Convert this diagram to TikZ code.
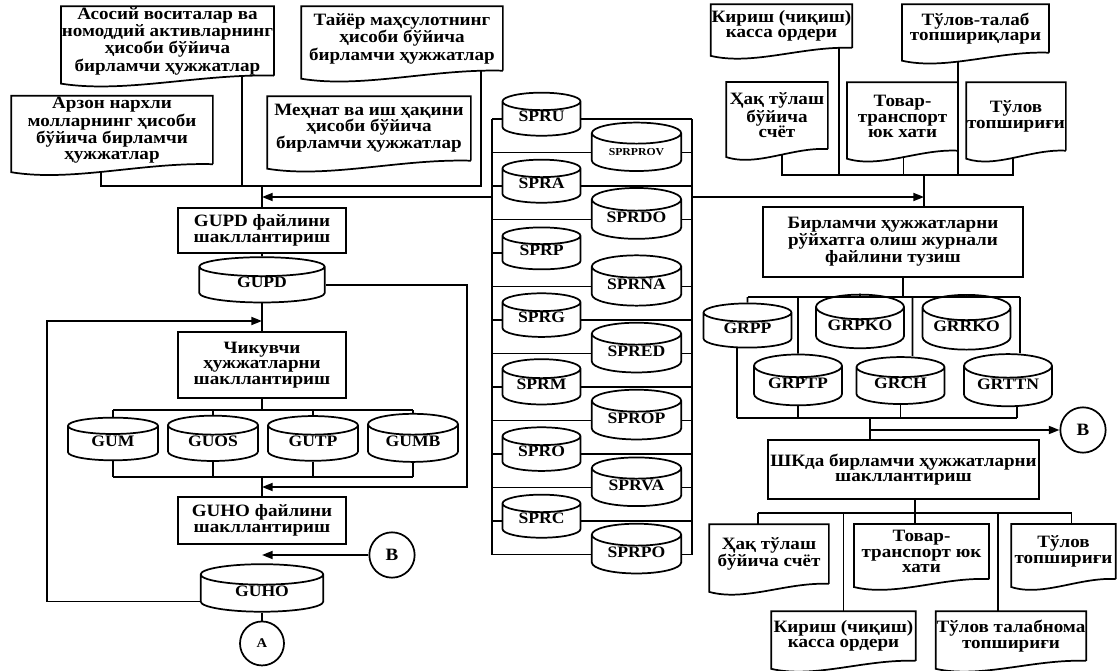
\documentclass[tikz,border=0pt]{standalone}
\usepackage{fontspec}
\setmainfont{Liberation Serif}[FakeStretch=1.1]
\usetikzlibrary{arrows.meta,positioning,calc,shapes.geometric}

\begin{document}
\begin{tikzpicture}[
  x=0.75pt, y=-0.75pt, line width=1.3pt,
  font=\fontsize{13}{11.6}\selectfont\bfseries,
  box/.style={draw, align=center, inner sep=2pt},
  doc/.style={align=center, inner sep=0pt},
  dbase/.style={draw, cylinder, shape border rotate=90, aspect=0.38, inner sep=0pt,
    text height=8pt, text depth=4pt, font=\fontsize{12}{12}\selectfont\bfseries},
  circ/.style={draw, circle, minimum size=34pt, inner sep=0pt},
  smalllab/.style={font=\fontsize{8}{9}\selectfont\bfseries},
  normlab/.style={},
  arr/.style={-{Triangle[length=8pt,width=6pt]}}
]
\useasboundingbox (0,0) rectangle (1118,671);

\node[doc, minimum width=146pt, minimum height=50pt] (asos) at (167.5,41) {Асосий воситалар ва\\номоддий активларнинг\\ҳисоби бўйича\\бирламчи ҳужжатлар};
\node[doc, minimum width=150pt, minimum height=47pt] (tayer) at (402,38.5) {Тайёр маҳсулотнинг\\ҳисоби бўйича\\бирламчи ҳужжатлар};
\node[doc, minimum width=150pt, minimum height=50pt] (arzon) at (112,130) {Арзон нархли\\молларнинг ҳисоби\\бўйича бирламчи\\ҳужжатлар};
\node[doc, minimum width=151.5pt, minimum height=47pt] (mehnat) at (369,128.5) {Меҳнат ва иш ҳақини\\ҳисоби бўйича\\бирламчи ҳужжатлар};

\node[doc, minimum width=103pt, minimum height=31.5pt] (kir1) at (781.5,26) {Кириш (чиқиш)\\касса ордери};
\node[doc, minimum width=109pt, minimum height=35pt] (tt1) at (975.5,28.5) {Тўлов-талаб\\топшириқлари};
\node[doc, minimum width=75pt, minimum height=49pt] (haq1) at (777,115.5) {Ҳақ тўлаш\\бўйича\\счёт};
\node[doc, minimum width=82pt, minimum height=50pt] (tov1) at (902.5,116.5) {Товар-\\транспорт\\юк хати};
\node[doc, minimum width=73.5pt, minimum height=50pt] (tul1) at (1016,116.5) {Тўлов\\топшириғи};

\node[doc, minimum width=88.5pt, minimum height=43.5pt] (haq2) at (769,554) {Ҳақ тўлаш\\бўйича счёт};
\node[doc, minimum width=100pt, minimum height=40pt] (tov2) at (921.5,551.5) {Товар-\\транспорт юк\\хати};
\node[doc, minimum width=77pt, minimum height=40pt] (tul2) at (1063.5,551.5) {Тўлов\\топшириғи};
\node[doc, minimum width=107pt, minimum height=36pt] (kir2) at (843.5,636) {Кириш (чиқиш)\\касса ордери};
\node[doc, minimum width=106.5pt, minimum height=36pt] (tt2) at (1011,636) {Тўлов талабнома\\топшириғи};

\foreach \d in {asos,tayer,arzon,mehnat,kir1,tt1,haq1,tov1,tul1,haq2,tov2,tul2,kir2,tt2}
  \draw (\d.south east) -- (\d.north east) -- (\d.north west) -- ($(\d.south west)+(0,8)$)
    .. controls ($(\d.south west)!0.3!(\d.south east)+(0,18)$) and ($(\d.south west)!0.65!(\d.south east)+(0,-2)$) .. (\d.south east);

\node[box, minimum width=126pt, minimum height=34pt] (gupdf) at (262,230.5) {GUPD файлини\\шакллантириш};
\node[dbase, minimum width=94pt, minimum height=30pt] (gupd) at (262,285) {GUPD};
\node[box, minimum width=126pt, minimum height=49.5pt] (chik) at (262,365) {Чикувчи\\ҳужжатларни\\шакллантириш};
\foreach \c/\x/\t in {gum/113/GUM,guos/213/GUOS,gutp/313/GUTP,gumb/413/GUMB}
  \node[dbase, minimum width=67.5pt, minimum height=32pt] (\c) at (\x,443.5) {\t};
\node[box, minimum width=126pt, minimum height=35pt] (guhof) at (262,520.5) {GUHO файлини\\шакллантириш};
\node[dbase, minimum width=92pt, minimum height=35pt] (guho) at (262,593.5) {GUHO};
\node[circ] (bL) at (392,555) {B};
\node[circ, minimum size=33pt, font=\fontsize{10}{12}\selectfont\bfseries, below=6pt of guho] (aL) {A};

\foreach \n/\k in {SPRU/0,SPRA/1,SPRP/2,SPRG/3,SPRM/4,SPRO/5,SPRC/6}
  \node[dbase, minimum width=58.5pt, minimum height=31pt] (\n) at (541.5,{119+67*\k}) {\n};
\foreach \n/\k/\s in {SPRPROV/0/smalllab,SPRDO/1/normlab,SPRNA/2/normlab,SPRED/3/normlab,SPROP/4/normlab,SPRVA/5/normlab,SPRPO/6/normlab}
  \node[dbase, \s, minimum width=67pt, minimum height=31.5pt] (\n) at (636.5,{152.5+67*\k}) {\n};
\coordinate (fl) at (492,197);
\coordinate (fr) at (692,197);
\draw (SPRU.west -| fl) -- (SPRPO.west -| fl);
\draw (SPRU.east -| fr) -- (SPRPO.east -| fr);
\foreach \n in {SPRU,SPRA,SPRP,SPRG,SPRM,SPRO,SPRC,SPRPROV,SPRDO,SPRNA,SPRED,SPROP,SPRVA,SPRPO}
  \draw (\n.west -| fl) -- (\n.west);
\foreach \n in {SPRU,SPRA,SPRG,SPRM,SPRO,SPRC,SPRPROV,SPRDO,SPRNA,SPRED,SPROP,SPRVA,SPRPO}
  \draw (\n.east) -- (\n.east -| fr);

\node[box, minimum width=195pt, minimum height=52.5pt] (regj) at (893,242) {Бирламчи ҳужжатларни\\рўйхатга олиш журнали\\файлини тузиш};
\node[dbase, minimum width=66pt, minimum height=33pt] (grpp) at (747.5,330.5) {GRPP};
\node[dbase, minimum width=66pt, minimum height=33pt] (grpko) at (860,328) {GRPKO};
\node[dbase, minimum width=66pt, minimum height=33pt] (grrko) at (966.5,329) {GRRKO};
\node[dbase, minimum width=66pt, minimum height=33pt] (grptp) at (798,386) {GRPTP};
\node[dbase, minimum width=66pt, minimum height=33pt] (grch) at (900.5,386) {GRCH};
\node[dbase, minimum width=66pt, minimum height=33pt] (grttn) at (1008,386.5) {GRTTN};
\node[box, minimum width=200pt, minimum height=44pt] (shk) at (903.5,469.5) {ШКда бирламчи ҳужжатларни\\шакллантириш};
\node[circ] (bR) at (1083,430) {B};

\coordinate (jL) at (262,186);
\draw ($(arzon.south west)!0.445!(arzon.south east)+(0,8)$) |- (jL) -| ($(tayer.south west)!0.89!(tayer.south east)$);
\draw ($(asos.south west)!0.85!(asos.south east)$) |- (jL);
\draw (jL) -- (gupdf);
\draw[arr] (fl) -- (fl -| gupdf);
\draw (gupdf) -- (gupd);
\draw (gupd) -- (chik);
\coordinate (ll) at (47,321);
\draw[arr] ([yshift=-6pt]guho.west) -| (ll) -- (ll -| chik);
\coordinate (b1) at (262,410);
\draw (chik) -- (b1);
\draw (b1 -| gum) -- (b1 -| gumb);
\coordinate (b2) at (262,477);
\draw (b2 -| gum) -- (b2 -| gumb);
\foreach \c in {gum,guos,gutp,gumb} {
  \draw (b1 -| \c) -- (\c.north);
  \draw (\c.south) -- (b2 -| \c);
}
\draw (b2) -- (guhof);
\coordinate (rl) at (467,487);
\draw[arr] (gupd.east) -| (rl) -- (rl -| guhof);
\draw[arr] (bL) -- (bL -| guho);
\draw (guho) -- (aL);

\coordinate (jR) at (924,175);
\draw ($(haq1.south west)!0.55!(haq1.south east)+(0,5)$) |- (jR) -| ($(tul1.south west)!0.47!(tul1.south east)+(0,7)$);
\draw ($(tov1.south west)!0.51!(tov1.south east)+(0,6)$) |- (jR);
\draw ($(kir1.south west)!0.905!(kir1.south east)$) |- (jR);
\draw ($(tt1.south west)!0.38!(tt1.south east)+(0,9)$) |- (jR);
\draw (jR) -- (jR |- regj.north);
\draw[arr] (fr) -- (fr -| jR);

\coordinate (b3) at (903,297);
\draw (b3 |- regj.south) -- (b3);
\draw (b3 -| grpp) -- ([xshift=9pt]b3 -| grttn);
\foreach \g in {grpp,grpko,grrko,grptp}
  \draw (b3 -| \g) -- (\g.north);
\foreach \g in {grch,grttn}
  \draw ([xshift=9pt]b3 -| \g) -- ([xshift=9pt]\g.north);
\coordinate (b4) at (870,418);
\draw ([xshift=-8pt]b4 -| grpp) -- ([xshift=7pt]b4 -| grttn);
\draw ([xshift=-8pt]grpp.south) -- ([xshift=-8pt]b4 -| grpp);
\draw (grptp.south) -- (b4 -| grptp);
\draw (grch.south) -- (b4 -| grch);
\draw ([xshift=7pt]grttn.south) -- ([xshift=7pt]b4 -| grttn);
\draw (b4) -- (b4 |- shk.north);
\draw[arr] (b4 |- bR) -- (bR);

\coordinate (b5) at (915,513);
\draw (b5 |- shk.south) -- (b5);
\draw ([xshift=-8pt]b5 -| haq2) -- ([xshift=6pt]b5 -| tul2);
\draw ([xshift=-8pt]b5 -| haq2) -- ([xshift=-8pt]haq2.north);
\draw (b5 -| kir2) -- (kir2.north);
\draw (b5) -- (b5 |- tov2.north);
\draw ([xshift=-10pt]b5 -| tt2) -- ([xshift=-10pt]tt2.north);
\draw ([xshift=6pt]b5 -| tul2) -- ([xshift=6pt]tul2.north);

\end{tikzpicture}
\end{document}
